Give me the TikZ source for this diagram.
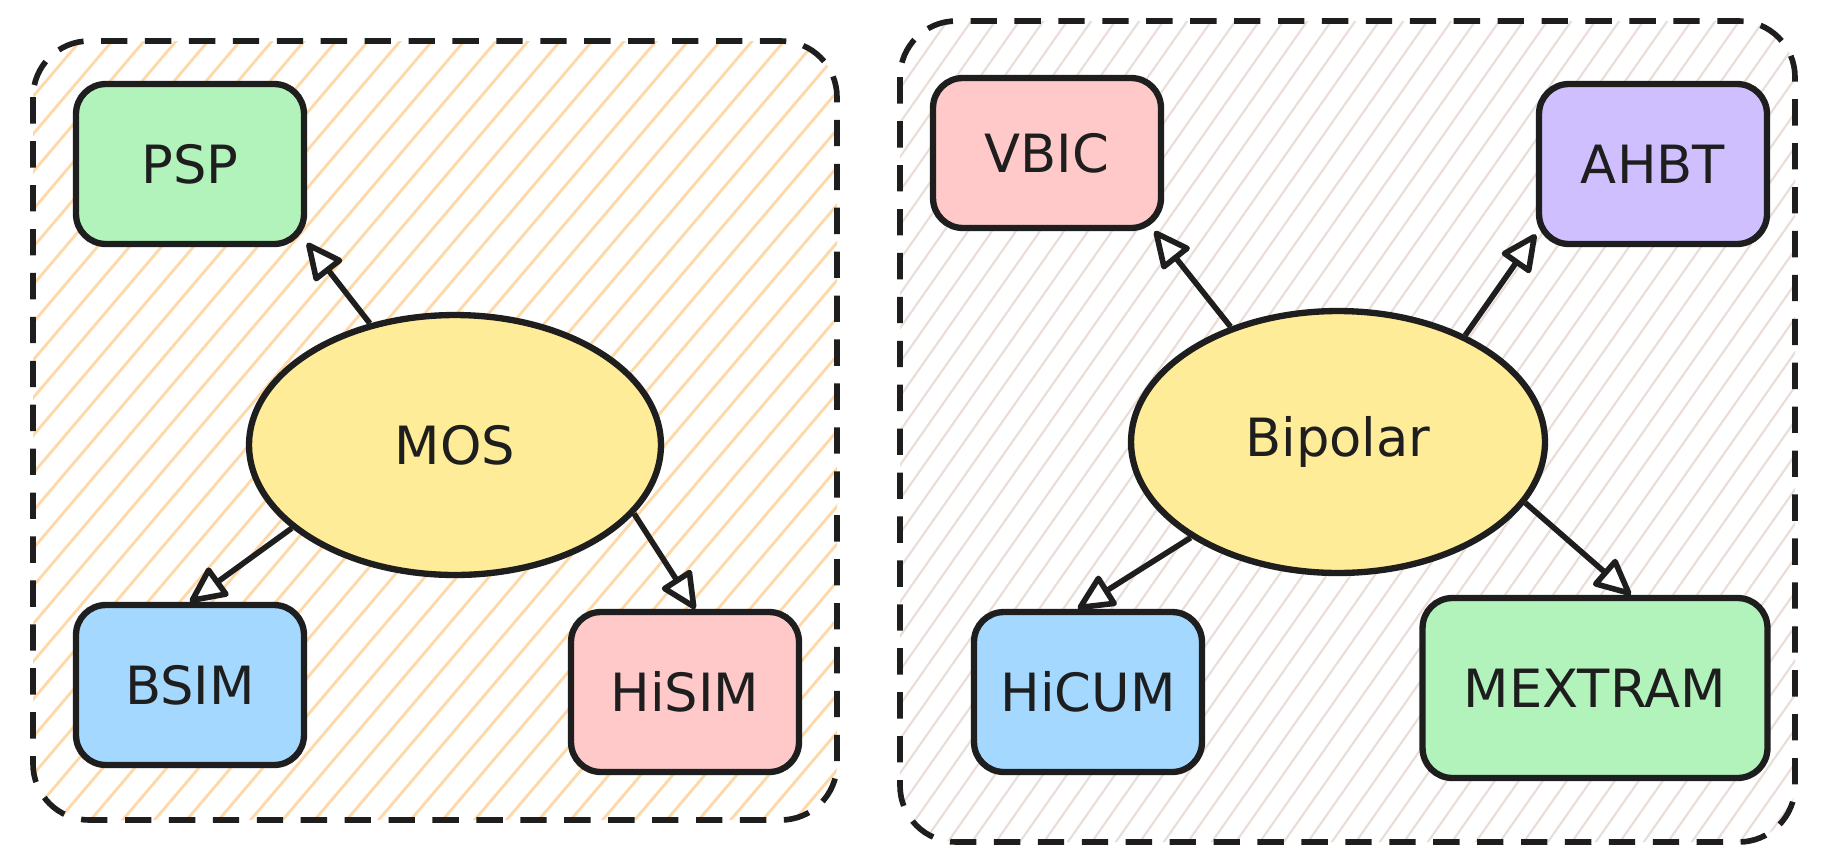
\documentclass[tikz,border=0pt]{standalone}
\usepackage{fontspec}
\setmainfont{DejaVu Sans}
\usepackage{tikz}
\usetikzlibrary{arrows.meta}
\usetikzlibrary{shapes.geometric}
\definecolor{ink}{HTML}{1E1E1E}
\definecolor{mint}{HTML}{B2F2BB}
\definecolor{sky}{HTML}{A5D8FF}
\definecolor{rose}{HTML}{FFC9C9}
\definecolor{lilac}{HTML}{D0BFFF}
\definecolor{butter}{HTML}{FFEC99}
\definecolor{peach}{HTML}{FFD8A8}
\definecolor{sand}{HTML}{EADDD7}
\tikzset{>=Triangle}
\tikzstyle{model} = [rectangle, rounded corners=17pt, draw=ink, line width=3.6pt, inner sep=0pt, text=ink, font=\fontsize{30}{36}\selectfont, minimum width=4.56cm, minimum height=3.2cm]
\tikzstyle{family} = [ellipse, draw=ink, fill=butter, line width=3.6pt, inner sep=0pt, text=ink, font=\fontsize{30}{36}\selectfont]
\tikzstyle{group} = [draw=ink, line width=3.2pt, dash pattern=on 15pt off 10pt, rounded corners=32pt]
\tikzstyle{hatch} = [line width=1.6pt]
\tikzstyle{link} = [-{Triangle[round, length=23pt, width=21pt, fill=white]}, draw=ink, line width=3.2pt]

\begin{document}
\begin{tikzpicture}[x=0.02cm, y=-0.02cm]
\useasboundingbox (0,0) rectangle (1828,856);
\fill [white] (0,0) rectangle (1828,856);
% MOS group
\begin{scope}
\clip [rounded corners=32pt] (33,41) rectangle (837,820);
\foreach \i in {-740,-708,...,850}
  \draw [hatch, peach] (\i,856) -- ++(727,-856);
\end{scope}
\draw [group] (33,41) rectangle (837,820);
% Bipolar group
\begin{scope}
\clip [rounded corners=32pt] (900,21) rectangle (1795,842);
\foreach \i in {290,314,...,1800}
  \draw [hatch, sand, line width=1.2pt] (\i,856) -- ++(600,-856);
\end{scope}
\draw [group] (900,21) rectangle (1795,842);

\node [family, minimum width=8.24cm, minimum height=5.2cm] (MOS) at (455,445) {MOS};
\node [model, fill=mint] (PSP) at (190,164) {PSP};
\node [model, fill=sky] (BSIM) at (190,685) {BSIM};
\node [model, fill=rose] (HiSIM) at (685,692) {HiSIM};

\node [family, minimum width=8.28cm, minimum height=5.24cm] (Bipolar) at (1338,442) {Bipolar};
\node [model, fill=rose, minimum height=3cm] (VBIC) at (1047,153) {VBIC};
\node [model, fill=lilac] (AHBT) at (1653,164) {AHBT};
\node [model, fill=sky] (HiCUM) at (1088,692) {HiCUM};
\node [model, fill=mint, minimum width=6.9cm, minimum height=3.6cm] (MEXTRAM) at (1595,688) {MEXTRAM};

\draw [link] (MOS.125) to (PSP.-34);
\draw [link] (MOS.207) to (BSIM.north);
\draw [link] (MOS.-21) to (HiSIM.83);
\draw [link] (Bipolar.133) to (VBIC.-36);
\draw [link] (Bipolar.40) to (AHBT.211);
\draw [link] (Bipolar.213) to (HiCUM.97);
\draw [link] (Bipolar.-18) to (MEXTRAM.69);
\end{tikzpicture}
\end{document}
